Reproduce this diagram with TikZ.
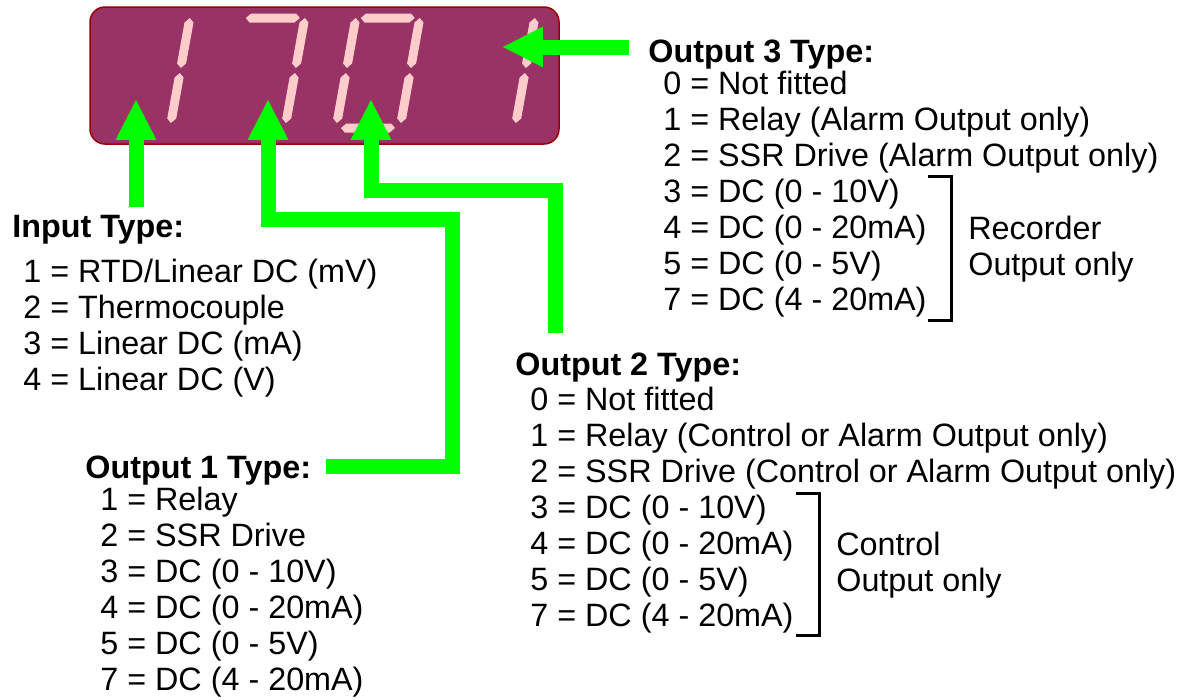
\documentclass[tikz,border=0pt]{standalone}
\usepackage{fontspec}
\setmainfont{Liberation Sans}
\usepackage{tikz}
\usetikzlibrary{arrows.meta}
\definecolor{panel}{RGB}{153, 51, 102}
\definecolor{panelrim}{RGB}{153, 0, 0}
\definecolor{segment}{RGB}{255, 204, 204}
\definecolor{pointer}{RGB}{0, 255, 0}
\newcommand{\labelsize}{\fontsize{18.4pt}{20.5pt}\selectfont}
\tikzstyle{display} = [rounded corners=0.3cm, fill=panel, draw=panelrim, line width=0.03cm]
\tikzstyle{seg} = [fill=segment, draw=none]
\tikzstyle{pointer} = [draw=pointer, line width=0.3cm, line join=miter, -{Triangle[width=0.82cm, length=0.8cm, line width=0pt]}]
\tikzstyle{head} = [anchor=base west, inner sep=0pt, font=\labelsize\bfseries]
\tikzstyle{item} = [anchor=base west, inner sep=0pt, font=\labelsize]
\tikzstyle{bracket} = [line width=0.06cm]
% one segment of a digit, in the digit's own frame
\newcommand{\hseg}[1]{\fill[seg] (5,#1) -- (9.5,#1+4.5) -- (54.5,#1+4.5) -- (59,#1) -- (54.5,#1-4.5) -- (9.5,#1-4.5) -- cycle;}
\newcommand{\vseg}[2]{\fill[seg] (#1,#2+5) -- (#1+4.5,#2+9.5) -- (#1+4.5,#2+50.5) -- (#1,#2+55) -- (#1-4.5,#2+50.5) -- (#1-4.5,#2+9.5) -- cycle;}
\newcommand{\digitat}[2]{\begin{scope}[shift={(#1,128)}, xslant=0.18, yscale=-1] #2 \end{scope}}

\begin{document}
\begin{tikzpicture}[x=0.02cm, y=-0.02cm]
    \useasboundingbox (0,0) rectangle (1187,700);

    % Display
    \draw[display] (90,7) rectangle (559,144);
    \digitat{106}{\vseg{64}{55} \vseg{64}{0}}
    \digitat{221}{\hseg{110} \vseg{64}{55} \vseg{64}{0}}
    \digitat{336}{\hseg{110} \vseg{64}{55} \vseg{64}{0} \hseg{0} \vseg{0}{0} \vseg{0}{55}}
    \digitat{451}{\vseg{64}{55} \vseg{64}{0}}

    % Input type
    \node[head] (inhead) at (12,237) {Input Type:};
    \foreach \t [count=\i] in {1 = RTD/Linear DC (mV), 2 = Thermocouple, 3 = Linear DC (mA), 4 = Linear DC (V)}
        \node[item] (in\i) at (23,246+36*\i) {\t};

    % Output 1 type
    \node[head] (out1head) at (85,478) {Output 1 Type:};
    \foreach \t [count=\i] in {1 = Relay, 2 = SSR Drive, 3 = DC (0 - 10V), 4 = DC (0 - 20mA), 5 = DC (0 - 5V), 7 = DC (4 - 20mA)}
        \node[item] (out1\i) at (100,474+36*\i) {\t};

    % Output 2 type
    \node[head] (out2head) at (515,375) {Output 2 Type:};
    \foreach \t [count=\i] in {0 = Not fitted, 1 = Relay (Control or Alarm Output only), 2 = SSR Drive (Control or Alarm Output only), 3 = DC (0 - 10V), 4 = DC (0 - 20mA), 5 = DC (0 - 5V), 7 = DC (4 - 20mA)}
        \node[item] (out2\i) at (530,374+36*\i) {\t};
    \draw[bracket] (796,493) -- (819,493) -- (819,635) -- (796,635);
    \node[item] (ctrl) at (836,555) {Control};
    \node[item] (ctrlonly) at (836,591) {Output only};

    % Output 3 type
    \node[head] (out3head) at (648,62) {Output 3 Type:};
    \foreach \t [count=\i] in {0 = Not fitted, 1 = Relay (Alarm Output only), 2 = SSR Drive (Alarm Output only), 3 = DC (0 - 10V), 4 = DC (0 - 20mA), 5 = DC (0 - 5V), 7 = DC (4 - 20mA)}
        \node[item] (out3\i) at (663,58+36*\i) {\t};
    \draw[bracket] (928,176) -- (951,176) -- (951,320) -- (928,320);
    \node[item] (rec) at (968,239) {Recorder};
    \node[item] (reconly) at (968,275) {Output only};

    % Pointers
    \coordinate (t1) at (136,100);
    \coordinate (t2) at (268,100);
    \coordinate (t3) at (371,100);
    \coordinate (t4) at (503,47);
    \coordinate (f1) at (136,207);
    \coordinate (f2) at (326,466);
    \coordinate (f3) at (555,333);
    \coordinate (f4) at (629,47);
    \coordinate (b2) at (452,219);
    \coordinate (b3) at (371,190);
    \draw[pointer] (f1) -- (t1);
    \draw[pointer] (f2) -| (b2) -| (t2);
    \draw[pointer] (f3) |- (b3) -- (t3);
    \draw[pointer] (f4) -- (t4);
\end{tikzpicture}
\end{document}
